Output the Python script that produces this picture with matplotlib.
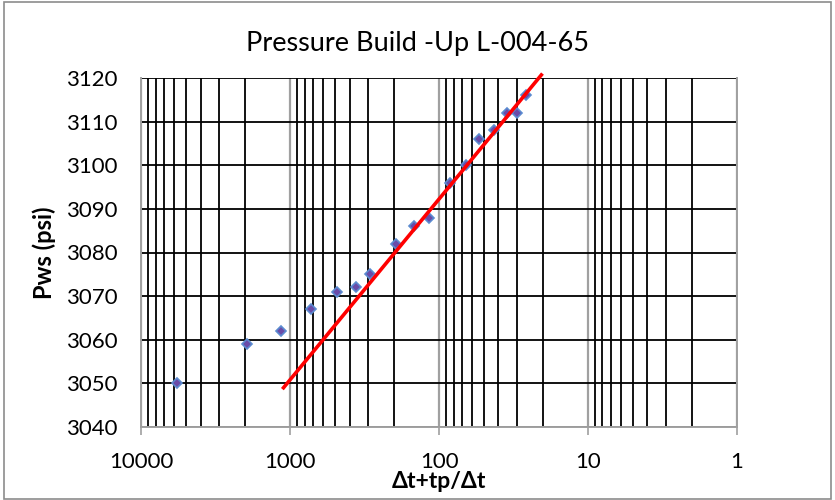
import numpy as np
import matplotlib
matplotlib.use('Agg')
import matplotlib.pyplot as plt
from matplotlib.ticker import FixedLocator, NullFormatter

plt.rcParams['font.family'] = ['Lato', 'DejaVu Sans']

# Build-up data
dt_ratio = [5794, 1947, 1163, 731, 484, 364, 293, 196, 147, 117,
            85, 65.6, 54, 43, 35.3, 30, 26.2]
pws = [3050, 3059, 3062, 3067, 3071, 3072, 3075, 3082, 3086, 3088,
       3096, 3100, 3106, 3108, 3112, 3112, 3116]

# Straight line through the semilog part
fit_x = [1110, 20.6]
fit_y = [3049, 3120.7]

x_ticks = [10000, 1000, 100, 10, 1]
x_labels = ['10000', '1000', '100', '10', '1']
y_ticks = list(range(3040, 3121, 10))

fig = plt.figure(figsize=(8.35, 5.0), dpi=100)
ax = fig.add_axes([0.1693, 0.146, 0.7133, 0.698])

ax.set_xscale('log')
ax.set_xlim(10000, 1)
ax.set_ylim(3040, 3120)

# Minor decade lines are black, major ones grey
minor = [m * 10**d for d in range(0, 4) for m in range(2, 10)]
ax.xaxis.set_minor_locator(FixedLocator(minor))
ax.xaxis.set_minor_formatter(NullFormatter())
ax.set_xticks(x_ticks)
ax.set_xticklabels(x_labels)
ax.set_yticks(y_ticks)

ax.grid(which='minor', axis='x', color='black', lw=1.3)
ax.grid(which='major', axis='x', color='#A0A0A0', lw=1.6)
ax.grid(which='major', axis='y', color='black', lw=1.3)
ax.set_axisbelow(True)

ax.tick_params(axis='x', which='major', direction='out', length=5.8,
               width=1.2, color='#A0A0A0', labelsize=16, pad=12)
ax.tick_params(axis='x', which='minor', length=0)
ax.tick_params(axis='y', length=0, labelsize=16, pad=17)

for s in ['left', 'bottom', 'right']:
    ax.spines[s].set_color('#A0A0A0')
    ax.spines[s].set_linewidth(1.4)
ax.spines['top'].set_visible(False)

# Points and trend line
ax.plot(dt_ratio, pws, 'D', ms=5.5, mfc='#6A4BA8', mec='#5B8BD0', mew=1.2,
        zorder=3)
ax.plot(fit_x, fit_y, color='red', lw=2.6, zorder=4, clip_on=False)

fig.text(418/835, 1 - 43/500, 'Pressure Build -Up L-004-65', fontsize=19.5,
         ha='center', va='center')
fig.text(439/835, 1 - 481/500, '\u0394t+tp/\u0394t', fontsize=16.5,
         fontweight='bold', ha='center', va='center')
fig.text(44/835, 1 - 253/500, 'Pws (psi)', fontsize=17, fontweight='bold',
         rotation=90, ha='center', va='center')

# Chart border
border = plt.Rectangle((4/835, 1/500), 827/835, 497/500, transform=fig.transFigure,
                       fc='none', ec='#8C8C8C', lw=1.2)
fig.patches.append(border)

fig.savefig('out.png', dpi=100)
